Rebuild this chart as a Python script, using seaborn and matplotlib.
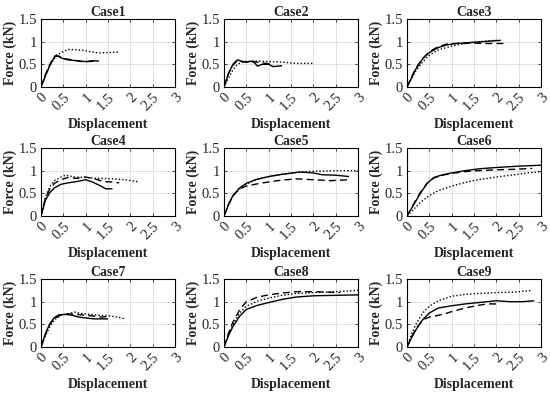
import matplotlib
matplotlib.use('Agg')
import matplotlib.pyplot as plt
import seaborn as sns

sns.set_style('white')
plt.rcParams['font.family'] = ['Liberation Serif', 'DejaVu Serif']

# ---- data (displacement, force in kN) ----
c1_solid_x = [0, 0.1, 0.2, 0.3, 0.35, 0.45, 0.6, 0.8, 1.0, 1.15, 1.3]
c1_solid_y = [0, 0.25, 0.48, 0.66, 0.7, 0.64, 0.6, 0.58, 0.56, 0.58, 0.57]
c1_dash_x = [0, 0.1, 0.2, 0.3, 0.4, 0.55, 0.7, 0.9, 1.05, 1.2]
c1_dash_y = [0, 0.28, 0.5, 0.68, 0.68, 0.62, 0.6, 0.56, 0.56, 0.57]
c1_dot_x = [0, 0.1, 0.2, 0.35, 0.5, 0.6, 0.8, 0.95, 1.1, 1.3, 1.5, 1.75]
c1_dot_y = [0, 0.25, 0.48, 0.7, 0.78, 0.83, 0.82, 0.81, 0.78, 0.75, 0.76, 0.77]

c2_solid_x = [0, 0.1, 0.2, 0.3, 0.4, 0.5, 0.65, 0.75, 0.85, 1.0, 1.1, 1.3]
c2_solid_y = [0, 0.3, 0.5, 0.6, 0.56, 0.55, 0.57, 0.46, 0.5, 0.5, 0.45, 0.47]
c2_dash_x = [0, 0.1, 0.2, 0.3, 0.4, 0.5, 0.65, 0.8, 0.95, 1.05]
c2_dash_y = [0, 0.3, 0.48, 0.58, 0.57, 0.55, 0.56, 0.54, 0.52, 0.5]
c2_dot_x = [0, 0.1, 0.2, 0.3, 0.45, 0.6, 0.8, 1.0, 1.3, 1.6, 2.0]
c2_dot_y = [0, 0.2, 0.38, 0.5, 0.56, 0.57, 0.57, 0.56, 0.55, 0.52, 0.52]

c3_solid_x = [0, 0.1, 0.2, 0.35, 0.5, 0.7, 0.9, 1.1, 1.4, 1.7, 2.1]
c3_solid_y = [0, 0.2, 0.4, 0.62, 0.76, 0.87, 0.93, 0.96, 0.98, 1.0, 1.03]
c3_dash_x = [0, 0.1, 0.2, 0.35, 0.5, 0.7, 0.9, 1.1, 1.4, 1.8, 2.2]
c3_dash_y = [0, 0.22, 0.42, 0.63, 0.78, 0.89, 0.95, 0.96, 0.97, 0.96, 0.96]
c3_dot_x = [0, 0.1, 0.2, 0.35, 0.5, 0.7, 1.0, 1.3, 1.6, 2.0]
c3_dot_y = [0, 0.18, 0.36, 0.55, 0.7, 0.82, 0.9, 0.96, 1.0, 1.03]

c4_solid_x = [0, 0.1, 0.2, 0.3, 0.45, 0.6, 0.8, 1.0, 1.15, 1.3, 1.45, 1.6]
c4_solid_y = [0, 0.35, 0.52, 0.62, 0.7, 0.73, 0.76, 0.8, 0.75, 0.68, 0.6, 0.6]
c4_dash_x = [0, 0.1, 0.2, 0.3, 0.45, 0.6, 0.8, 1.0, 1.2, 1.4, 1.6, 1.75]
c4_dash_y = [0, 0.4, 0.6, 0.72, 0.8, 0.85, 0.83, 0.86, 0.82, 0.76, 0.75, 0.73]
c4_dot_x = [0, 0.1, 0.2, 0.3, 0.45, 0.55, 0.75, 1.0, 1.3, 1.6, 1.9, 2.2]
c4_dot_y = [0, 0.42, 0.65, 0.78, 0.86, 0.9, 0.86, 0.85, 0.83, 0.82, 0.8, 0.75]

c5_solid_x = [0, 0.1, 0.2, 0.35, 0.5, 0.7, 1.0, 1.3, 1.7, 2.0, 2.2, 2.5, 2.8]
c5_solid_y = [0, 0.25, 0.45, 0.62, 0.72, 0.8, 0.87, 0.92, 0.97, 0.95, 0.91, 0.9, 0.87]
c5_dash_x = [0, 0.1, 0.2, 0.35, 0.5, 0.8, 1.2, 1.6, 2.0, 2.4, 2.8]
c5_dash_y = [0, 0.25, 0.45, 0.6, 0.66, 0.72, 0.78, 0.82, 0.8, 0.78, 0.8]
c5_dot_x = [0, 0.1, 0.2, 0.35, 0.5, 0.7, 1.0, 1.3, 1.8, 2.2, 2.6, 3.0]
c5_dot_y = [0, 0.24, 0.44, 0.6, 0.7, 0.79, 0.87, 0.92, 0.98, 0.99, 1.0, 1.0]

c6_solid_x = [0, 0.15, 0.3, 0.45, 0.6, 0.8, 1.0, 1.3, 1.6, 2.0, 2.5, 3.0]
c6_solid_y = [0, 0.25, 0.5, 0.72, 0.85, 0.91, 0.95, 1.0, 1.04, 1.07, 1.1, 1.12]
c6_dash_x = [0, 0.15, 0.3, 0.45, 0.6, 0.8, 1.0, 1.3, 1.6, 2.0, 2.4, 2.8]
c6_dash_y = [0, 0.27, 0.52, 0.72, 0.84, 0.9, 0.94, 0.98, 1.0, 1.02, 1.03, 1.05]
c6_dot_x = [0, 0.15, 0.3, 0.5, 0.7, 1.0, 1.3, 1.6, 2.0, 2.4, 2.7, 3.0]
c6_dot_y = [0, 0.15, 0.3, 0.45, 0.56, 0.66, 0.74, 0.8, 0.86, 0.91, 0.95, 0.98]

c7_solid_x = [0, 0.1, 0.2, 0.3, 0.4, 0.55, 0.7, 0.85, 1.0, 1.2, 1.35, 1.5]
c7_solid_y = [0, 0.3, 0.52, 0.65, 0.71, 0.72, 0.7, 0.66, 0.64, 0.62, 0.62, 0.62]
c7_dash_x = [0, 0.1, 0.2, 0.3, 0.45, 0.6, 0.8, 1.0, 1.2, 1.35, 1.5]
c7_dash_y = [0, 0.28, 0.5, 0.63, 0.71, 0.73, 0.72, 0.7, 0.68, 0.66, 0.67]
c7_dot_x = [0, 0.1, 0.2, 0.3, 0.45, 0.6, 0.75, 0.9, 1.1, 1.3, 1.5, 1.7, 1.9]
c7_dot_y = [0, 0.25, 0.45, 0.6, 0.7, 0.73, 0.77, 0.74, 0.72, 0.7, 0.69, 0.66, 0.62]

c8_solid_x = [0, 0.1, 0.2, 0.35, 0.5, 0.75, 1.0, 1.3, 1.6, 2.0, 2.5, 3.0]
c8_solid_y = [0, 0.25, 0.45, 0.68, 0.83, 0.92, 0.98, 1.05, 1.1, 1.13, 1.14, 1.15]
c8_dash_x = [0, 0.1, 0.2, 0.35, 0.5, 0.75, 1.0, 1.3, 1.6, 2.0, 2.3, 2.6]
c8_dash_y = [0, 0.3, 0.55, 0.82, 1.0, 1.1, 1.15, 1.19, 1.22, 1.22, 1.21, 1.2]
c8_dot_x = [0, 0.1, 0.2, 0.35, 0.5, 0.75, 1.0, 1.3, 1.6, 2.0, 2.5, 3.0]
c8_dot_y = [0, 0.28, 0.5, 0.75, 0.9, 1.01, 1.08, 1.14, 1.18, 1.2, 1.22, 1.25]

c9_solid_x = [0, 0.1, 0.2, 0.35, 0.5, 0.7, 1.0, 1.3, 1.6, 2.0, 2.3, 2.6, 2.85]
c9_solid_y = [0, 0.2, 0.38, 0.6, 0.75, 0.86, 0.91, 0.95, 0.98, 1.02, 1.0, 1.0, 1.02]
c9_dash_x = [0, 0.1, 0.2, 0.35, 0.5, 0.8, 1.0, 1.3, 1.6, 1.8, 2.0]
c9_dash_y = [0, 0.22, 0.4, 0.6, 0.66, 0.72, 0.78, 0.86, 0.92, 0.95, 0.95]
c9_dot_x = [0, 0.1, 0.2, 0.35, 0.5, 0.7, 1.0, 1.3, 1.6, 2.0, 2.4, 2.8]
c9_dot_y = [0, 0.28, 0.5, 0.75, 0.9, 1.02, 1.12, 1.16, 1.18, 1.2, 1.21, 1.25]

case_names = ['Case1', 'Case2', 'Case3', 'Case4', 'Case5', 'Case6', 'Case7', 'Case8', 'Case9']
case_series = [
    [(c1_solid_x, c1_solid_y), (c1_dash_x, c1_dash_y), (c1_dot_x, c1_dot_y)],
    [(c2_solid_x, c2_solid_y), (c2_dash_x, c2_dash_y), (c2_dot_x, c2_dot_y)],
    [(c3_solid_x, c3_solid_y), (c3_dash_x, c3_dash_y), (c3_dot_x, c3_dot_y)],
    [(c4_solid_x, c4_solid_y), (c4_dash_x, c4_dash_y), (c4_dot_x, c4_dot_y)],
    [(c5_solid_x, c5_solid_y), (c5_dash_x, c5_dash_y), (c5_dot_x, c5_dot_y)],
    [(c6_solid_x, c6_solid_y), (c6_dash_x, c6_dash_y), (c6_dot_x, c6_dot_y)],
    [(c7_solid_x, c7_solid_y), (c7_dash_x, c7_dash_y), (c7_dot_x, c7_dot_y)],
    [(c8_solid_x, c8_solid_y), (c8_dash_x, c8_dash_y), (c8_dot_x, c8_dot_y)],
    [(c9_solid_x, c9_solid_y), (c9_dash_x, c9_dash_y), (c9_dot_x, c9_dot_y)],
]
x_ticks = [0, 0.5, 1, 1.5, 2, 2.5, 3]
x_ticklabels = ['0', '0.5', '1', '1.5', '2', '2.5', '3']
y_ticks = [0, 0.5, 1, 1.5]
y_ticklabels = ['0', '0.5', '1', '1.5']

styles = [(0, ()), (0, (5, 3)), (0, (1, 1.5))]

fig = plt.figure(figsize=(5.5, 3.94), dpi=100)
col_left = [41, 224, 407]
row_top = [19, 148, 279]
ax_w, ax_h = 134, 68

for i, (name, series) in enumerate(zip(case_names, case_series)):
    r, c = divmod(i, 3)
    ax = fig.add_axes([col_left[c] / 550, 1 - (row_top[r] + ax_h) / 394, ax_w / 550, ax_h / 394])
    for (xs, ys), ls in zip(series, styles):
        sns.lineplot(x=xs, y=ys, ax=ax, color='black', linestyle=ls, linewidth=1.0, sort=False)
    ax.set_xlim(0, 3)
    ax.set_ylim(0, 1.5)
    ax.set_xticks(x_ticks)
    ax.set_xticklabels(x_ticklabels, rotation=45, ha='right', rotation_mode='anchor', fontsize=10.5)
    ax.set_yticks(y_ticks)
    ax.set_yticklabels(y_ticklabels, fontsize=10.5)
    ax.grid(True, color='#dcdcdc', linewidth=0.6)
    ax.tick_params(direction='in', length=2, width=0.6, pad=3, bottom=True, left=True, top=True, right=True)
    for sp in ax.spines.values():
        sp.set_color('black')
        sp.set_linewidth(0.8)
    ax.set_title(name, fontsize=10, fontweight='bold', pad=2)
    ax.set_xlabel('Displacement', fontsize=10, fontweight='bold', labelpad=3)
    ax.set_ylabel('Force (kN)', fontsize=10, fontweight='bold', labelpad=1)

fig.savefig('out.png', dpi=100)
